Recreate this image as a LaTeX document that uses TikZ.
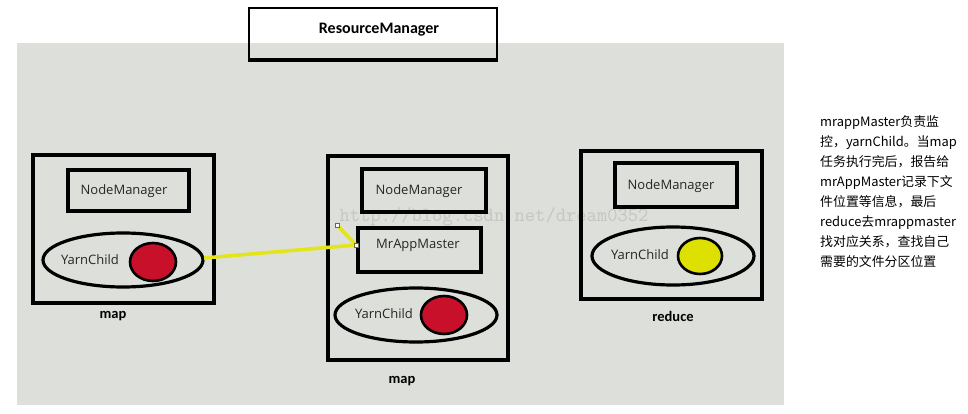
\documentclass[tikz,border=0pt]{standalone}
\usepackage{fontspec}
\usetikzlibrary{calc}
\setmainfont{Carlito}
\newfontfamily\cjk{Noto Sans CJK SC}
\newfontfamily\lbl{Open Sans}
\definecolor{panel}{HTML}{DDE0DA}
\definecolor{redc}{HTML}{C8102A}
\definecolor{yelc}{HTML}{DDE000}
\definecolor{yline}{HTML}{E4E41A}
\definecolor{wm}{HTML}{C4C7C1}
\begin{document}
\begin{tikzpicture}[x=1pt,y=-1pt,
  outer/.style={draw=black,line width=3.6pt},
  inbox/.style={draw=black,line width=3.2pt},
  ell/.style={draw=black,line width=3.2pt},
  dotc/.style={draw=black,line width=2.6pt},
  lab/.style={font=\lbl\fontsize{13}{15}\selectfont,text=black!85},
  caplbl/.style={font=\bfseries\fontsize{14.5}{16}\selectfont}]
\useasboundingbox (0,0) rectangle (968,414);
% panel
\fill[panel] (17,43) rectangle (784,405);
% watermark
\node[text=wm,font=\ttfamily\fontsize{20}{22}\selectfont,anchor=center] (wmk) at (494,217) {http://blog.csdn.net/dream0352};
% ResourceManager
\draw[black,line width=1.6pt] (249,61) -- (249,8) -- (497,8) -- (497,61);
\draw[black,line width=3.4pt] (248,60) -- (498,60);
\node[font=\bfseries\fontsize{16}{18}\selectfont] (rm) at (379,30) {ResourceManager};
% left map box
\draw[outer] (33,155) rectangle (214,303);
\draw[inbox] (68,170) rectangle (189,211);
\node[lab] (nm1) at (124,191) {NodeManager};
\draw[ell] (123,260) ellipse (80 and 27);
\node[lab] (yc1) at (90,260) {YarnChild};
\fill[redc] (153,262) ellipse (23 and 19);
\draw[dotc] (153,262) ellipse (23 and 19);
\node[caplbl] (m1) at (113,316) {map};
% middle map box
\draw[outer] (328,156) rectangle (508,360);
\draw[inbox] (362,169) rectangle (486,212);
\node[lab] (nm2) at (419,191) {NodeManager};
\draw[inbox] (358,228) rectangle (481,272);
\node[lab] (mr) at (418,245) {MrAppMaster};
\draw[ell] (416,315) ellipse (81 and 27);
\node[lab] (yc2) at (384,314) {YarnChild};
\fill[redc] (444,315) ellipse (23 and 19);
\draw[dotc] (444,315) ellipse (23 and 19);
\node[caplbl] (m2) at (402,381) {map};
% right reduce box
\draw[outer] (581,151) rectangle (762,299);
\draw[inbox] (615,163) rectangle (737,207);
\node[lab] (nm3) at (671,186) {NodeManager};
\draw[ell] (673,256) ellipse (81 and 29);
\node[lab] (yc3) at (640,255) {YarnChild};
\fill[yelc] (700,256) ellipse (22 and 18);
\draw[dotc] (700,256) ellipse (22 and 18);
\node[caplbl] (rd) at (673,316) {reduce};
% yellow connector
\coordinate (ya) at (204,258);
\coordinate (yb) at (356,245);
\coordinate (yc) at (337,225);
\draw[yline,line width=3.6pt,line join=round] (ya) -- (yb) -- (yc);
\draw[black!60,fill=white,line width=0.5pt] ($(yb)+(-1.8,-1.8)$) rectangle ($(yb)+(1.8,1.8)$);
\draw[black!60,fill=white,line width=0.5pt] ($(yc)+(-1.8,-1.8)$) rectangle ($(yc)+(1.8,1.8)$);
% right text
\node[anchor=north west,align=left,inner sep=0pt,font=\cjk\fontsize{12.9}{20}\selectfont] (txt) at (820,115)
{mrappMaster负责监\\控，yarnChild。当map\\任务执行完后，报告给\\mrAppMaster记录下文\\件位置等信息，最后\\reduce去mrappmaster\\找对应关系，查找自己\\需要的文件分区位置};
\end{tikzpicture}
\end{document}
